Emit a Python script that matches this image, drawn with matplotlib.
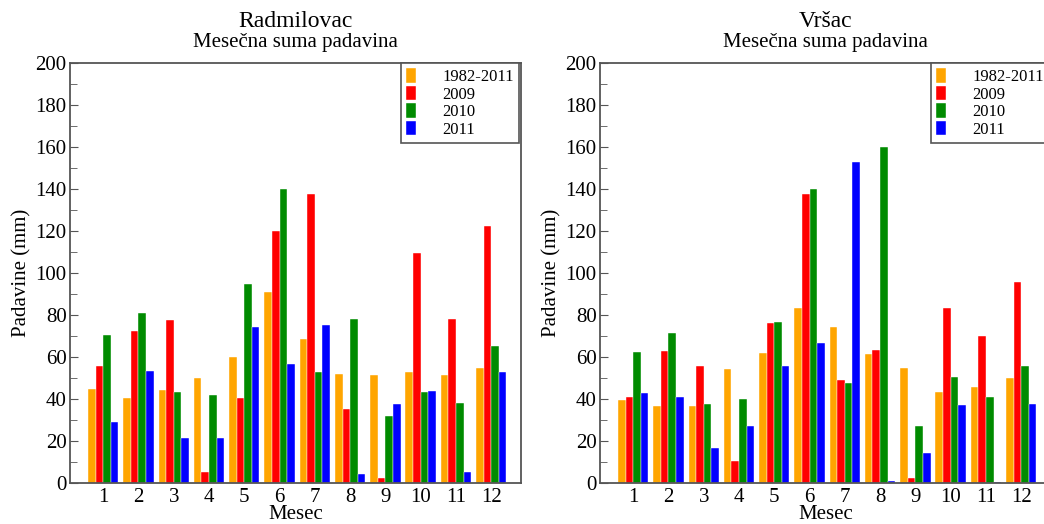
import numpy as np
import matplotlib
matplotlib.use("Agg")
import matplotlib.pyplot as plt

plt.rcParams['font.family'] = ['Liberation Serif', 'DejaVu Serif']

months = np.arange(1, 13)
series_labels = ['1982-2011', '2009', '2010', '2011']
colors = ['#ffa500', '#ff0000', '#008b00', '#0000ff']

# Radmilovac
rad_1982_2011 = [44.6, 40.3, 44.1, 50.2, 59.9, 90.8, 68.7, 52.0, 51.2, 52.7, 51.2, 55.0]
rad_2009 = [55.5, 72.5, 77.8, 5.3, 40.6, 119.8, 137.5, 35.2, 2.5, 109.5, 78.2, 122.4]
rad_2010 = [70.4, 81.0, 43.3, 41.8, 94.8, 139.9, 52.7, 78.2, 32.0, 43.2, 38.2, 65.3]
rad_2011 = [29.0, 53.4, 21.2, 21.2, 74.1, 56.7, 75.4, 4.3, 37.5, 44.0, 5.3, 52.9]

# Vrsac
vr_1982_2011 = [39.4, 36.7, 36.8, 54.5, 62.0, 83.2, 74.3, 61.5, 54.8, 43.3, 45.9, 50.2]
vr_2009 = [41.0, 62.9, 55.5, 10.7, 76.3, 137.5, 48.9, 63.4, 2.4, 83.3, 69.8, 95.6]
vr_2010 = [62.2, 71.2, 37.6, 40.2, 76.8, 140.2, 47.6, 160.2, 27.1, 50.5, 41.0, 55.5]
vr_2011 = [43.0, 41.0, 16.7, 27.1, 55.5, 66.8, 152.8, 0.8, 14.2, 37.1, 0.6, 37.6]

stations = [
    ('Radmilovac', [rad_1982_2011, rad_2009, rad_2010, rad_2011]),
    (u'Vr\u0161ac', [vr_1982_2011, vr_2009, vr_2010, vr_2011]),
]

fig = plt.figure(figsize=(10.44, 5.24), dpi=100)
axes_pos = [[0.06705, 0.07824, 0.432, 0.8015],
            [0.5747, 0.07824, 0.432, 0.8015]]

w = 0.2155
spine_col = '#555555'

for (name, data), pos in zip(stations, axes_pos):
    ax = fig.add_axes(pos)
    for k, vals in enumerate(data):
        ax.bar(months + (k - 1.5) * w, vals, width=w, color=colors[k],
               edgecolor='white', linewidth=0.3, label=series_labels[k])
    ax.set_xlim(0.059, 12.845)
    ax.set_ylim(0, 200)
    ax.set_yticks(np.arange(0, 201, 20))
    ax.set_yticks(np.arange(0, 201, 10), minor=True)
    ax.set_xticks(months)
    ax.tick_params(axis='y', which='both', direction='in', labelsize=15,
                   pad=2.5, color=spine_col)
    ax.tick_params(axis='y', which='major', length=6)
    ax.tick_params(axis='y', which='minor', length=5)
    ax.tick_params(axis='x', length=0, labelsize=15, pad=3.5)
    for s in ax.spines.values():
        s.set_color(spine_col)
        s.set_linewidth(1.3)
    ax.set_ylabel('Padavine (mm)', fontsize=15, labelpad=3)
    ax.set_xlabel('Mesec', fontsize=15, labelpad=-1)
    ax.text(0.5, 1.0857, name, transform=ax.transAxes, ha='center',
            va='baseline', fontsize=17)
    ax.text(0.5, 1.038, u'Mese\u010dna suma padavina',
            transform=ax.transAxes, ha='center', va='baseline', fontsize=15)
    leg = ax.legend(loc='upper right', bbox_to_anchor=(0.996, 1.0),
                    borderaxespad=0, fontsize=12,
                    handlelength=0.6, handleheight=1.0, handletextpad=1.6,
                    labelspacing=0.02, fancybox=False, framealpha=1,
                    borderpad=0.3)
    leg.get_frame().set_edgecolor(spine_col)
    leg.get_frame().set_linewidth(1.2)

plt.savefig("out.png", dpi=100)
plt.close()
